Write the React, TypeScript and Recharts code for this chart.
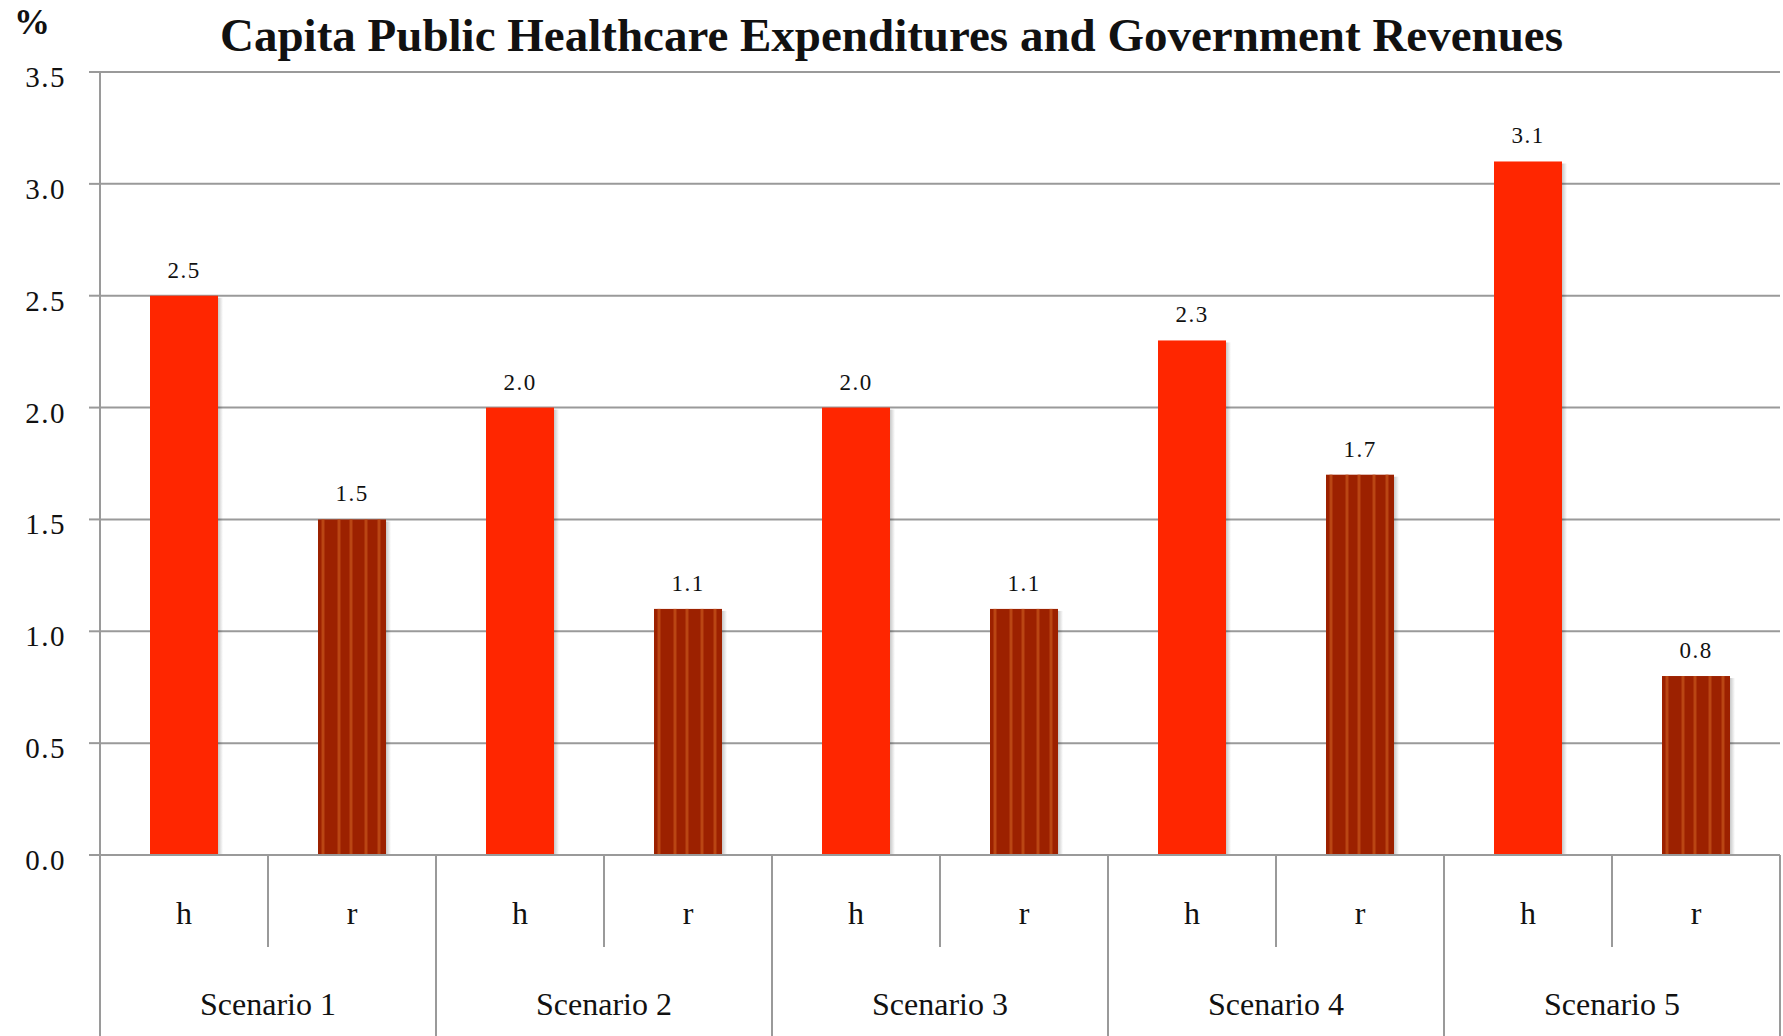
import React from 'react';
import { BarChart, Bar, XAxis, YAxis, CartesianGrid, LabelList } from 'recharts';

const categories = ['h', 'r', 'h', 'r', 'h', 'r', 'h', 'r', 'h', 'r'];
const scenarios = ['Scenario 1', 'Scenario 2', 'Scenario 3', 'Scenario 4', 'Scenario 5'];
const values = [2.5, 1.5, 2.0, 1.1, 2.0, 1.1, 2.3, 1.7, 3.1, 0.8];
const yTicks = [0, 0.5, 1.0, 1.5, 2.0, 2.5, 3.0, 3.5];
const titleText = 'Capita Public Healthcare Expenditures and Government Revenues';
const unitText = '%';

const data = values.map((v, i) => ({
  key: String(i),
  cat: categories[i],
  scenario: scenarios[Math.floor(i / 2)],
  value: v,
}));

const FONT = '"Liberation Serif", "DejaVu Serif", serif';
const GRID = '#9a9a9a';
const H_FILL = '#ff2600';
const R_FILL = '#9c2100';
const R_STRIPE = '#bf4c16';
const W = 1783;
const H = 1036;
const PLOT_LEFT = 100;
const PLOT_RIGHT = 1780;
const PLOT_BOTTOM = 855;
const SLOT = (PLOT_RIGHT - PLOT_LEFT) / categories.length;

const BarShape = (props: any) => {
  const { x, y, width, height, payload, index } = props;
  if (height <= 0) return null;
  const gid = `shadow-${index}`;
  const isR = payload && payload.cat === 'r';
  const stripes = [5, 21, 33, 48, 61].map((o) => (o / 68) * width);
  return (
    <g>
      <defs>
        <linearGradient id={gid} x1="0" y1="0" x2="1" y2="0">
          <stop offset="0%" stopColor="#000" stopOpacity={0.22} />
          <stop offset="100%" stopColor="#000" stopOpacity={0} />
        </linearGradient>
      </defs>
      <rect x={x + width} y={y + 2} width={5} height={height - 2} fill={`url(#${gid})`} />
      <rect x={x} y={y} width={width} height={height} fill={isR ? R_FILL : H_FILL} />
      {isR &&
        stripes.map((s, k) => (
          <rect key={k} x={x + s - 1.5} y={y} width={3} height={height} fill={R_STRIPE} opacity={0.85} />
        ))}
    </g>
  );
};

const ValueLabel = (props: any) => {
  const { x, y, width, value } = props;
  return (
    <text
      x={x + width / 2}
      y={y - 18}
      textAnchor="middle"
      style={{ fontFamily: FONT, fontSize: 23, letterSpacing: 1.5 }}
      fill="#111"
    >
      {Number(value).toFixed(1)}
    </text>
  );
};

const YTick = (props: any) => {
  const { y, payload } = props;
  return (
    <text
      x={66}
      y={y + 5}
      textAnchor="end"
      dominantBaseline="central"
      style={{ fontFamily: FONT, fontSize: 29, letterSpacing: 1.5 }}
      fill="#111"
    >
      {Number(payload.value).toFixed(1)}
    </text>
  );
};

const XTick = (props: any) => {
  const { x, y, payload, index } = props;
  const i = typeof index === 'number' ? index : Number(payload.value);
  const cat = categories[i];
  const right = x + SLOT / 2;
  const isPairEnd = i % 2 === 1;
  return (
    <g>
      <text x={x} y={y + 69} textAnchor="middle" style={{ fontFamily: FONT, fontSize: 32 }} fill="#111">
        {cat}
      </text>
      {i === 0 && <line x1={x - SLOT / 2} y1={y} x2={x - SLOT / 2} y2={H} stroke={GRID} strokeWidth={2} />}
      <line x1={right} y1={y} x2={right} y2={isPairEnd ? H : y + 92} stroke={GRID} strokeWidth={2} />
      {isPairEnd && (
        <text x={x - SLOT / 2} y={y + 160} textAnchor="middle" style={{ fontFamily: FONT, fontSize: 32 }} fill="#111">
          {scenarios[Math.floor(i / 2)]}
        </text>
      )}
    </g>
  );
};

export default function App() {
  return (
    <div style={{ position: 'absolute', left: 0, top: 0, width: W, height: H, background: '#fff' }}>
      <div
        style={{
          position: 'absolute',
          left: 14,
          top: 0,
          fontFamily: FONT,
          fontWeight: 'bold',
          fontSize: 36,
          lineHeight: '44px',
          color: '#111',
        }}
      >
        {unitText}
      </div>
      <div
        style={{
          position: 'absolute',
          left: 0,
          width: W,
          top: 8,
          textAlign: 'center',
          fontFamily: FONT,
          fontWeight: 'bold',
          fontSize: 47,
          lineHeight: '54px',
          color: '#111',
          whiteSpace: 'nowrap',
        }}
      >
        {titleText}
      </div>
      <BarChart
        width={W}
        height={H}
        data={data}
        margin={{ top: 72, right: W - PLOT_RIGHT, bottom: 0, left: 0 }}
        barSize={68}
        style={{ position: 'absolute', left: 0, top: 0 }}
      >
        <CartesianGrid vertical={false} stroke={GRID} strokeWidth={2} />
        <XAxis
          dataKey="key"
          interval={0}
          tickLine={false}
          tickSize={0}
          tickMargin={0}
          axisLine={{ stroke: GRID, strokeWidth: 2 }}
          tick={<XTick />}
          height={H - PLOT_BOTTOM}
        />
        <YAxis
          width={PLOT_LEFT}
          domain={[0, 3.5]}
          ticks={yTicks}
          interval={0}
          tickSize={11}
          tickLine={{ stroke: GRID, strokeWidth: 2 }}
          axisLine={{ stroke: GRID, strokeWidth: 2 }}
          tick={<YTick />}
        />
        <Bar dataKey="value" shape={<BarShape />} isAnimationActive={false}>
          <LabelList dataKey="value" content={<ValueLabel />} />
        </Bar>
      </BarChart>
    </div>
  );
}
